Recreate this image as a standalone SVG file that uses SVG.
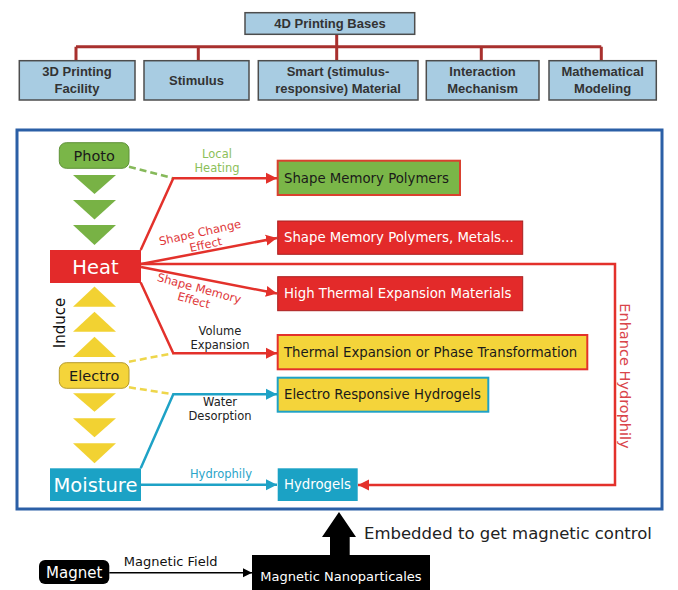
<svg xmlns="http://www.w3.org/2000/svg" width="678" height="590" viewBox="0 0 678 590">
<defs>
<marker id="arR" markerUnits="userSpaceOnUse" markerWidth="12" markerHeight="12" refX="11" refY="6" orient="auto"><path d="M0,0.5 L11,6 L0,11.5 Z" fill="#e3312b"/></marker>
<marker id="arT" markerUnits="userSpaceOnUse" markerWidth="12" markerHeight="12" refX="11" refY="6" orient="auto"><path d="M0,0.5 L11,6 L0,11.5 Z" fill="#1ea2c6"/></marker>
<marker id="arK" markerUnits="userSpaceOnUse" markerWidth="10" markerHeight="10" refX="9" refY="5" orient="auto"><path d="M0,0.5 L9,5 L0,9.5 Z" fill="#000"/></marker>
</defs>
<style>
.tb{fill:#a8cce2;stroke:#4d4d4d;stroke-width:1.5}
.tt{font-family:"Liberation Sans",Arial,sans-serif;font-weight:bold;font-size:13px;fill:#333;text-anchor:middle}
.tree{stroke:#a8302e;stroke-width:3;fill:none}
.v{font-family:"DejaVu Sans",Verdana,sans-serif}
.mid{text-anchor:middle}
.bt{font-family:"DejaVu Sans",Verdana,sans-serif;font-size:13.3px}
.lbl{font-family:"DejaVu Sans",Verdana,sans-serif;font-size:11.5px;text-anchor:middle}
.red{stroke:#e3312b;stroke-width:2.5;fill:none}
.teal{stroke:#1ea2c6;stroke-width:2.5;fill:none}
.gtri{fill:#78b245}
.ytri{fill:#f2d232}
</style>
<rect width="678" height="590" fill="#fff"/>

<g id="tree-connectors">
<path class="tree" d="M336.7,34.3 V46.7 M76,46.7 H601.3 M76,46.7 V60.7 M198.3,46.7 V60.7 M336.7,46.7 V60.7 M481.3,46.7 V60.7 M601.3,46.7 V60.7"/>
</g>
<g id="bases"><rect class="tb" x="245" y="12.7" width="169.7" height="21.6"/><text class="tt" x="330" y="28">4D Printing Bases</text></g>
<g id="facility"><rect class="tb" x="19.3" y="60.7" width="115.7" height="39.3"/><text class="tt" x="77" y="76">3D Printing</text><text class="tt" x="77" y="93">Facility</text></g>
<g id="stimulus"><rect class="tb" x="144" y="60.7" width="105" height="39.3"/><text class="tt" x="196.5" y="84.5">Stimulus</text></g>
<g id="material"><rect class="tb" x="258.3" y="60.7" width="159.7" height="39.3"/><text class="tt" x="338" y="76">Smart (stimulus-</text><text class="tt" x="338" y="93">responsive) Material</text></g>
<g id="mechanism"><rect class="tb" x="426.3" y="60.7" width="112.7" height="39.3"/><text class="tt" x="482.6" y="76">Interaction</text><text class="tt" x="482.6" y="93">Mechanism</text></g>
<g id="modeling"><rect class="tb" x="549" y="60.7" width="107.3" height="39.3"/><text class="tt" x="602.6" y="76">Mathematical</text><text class="tt" x="602.6" y="93">Modeling</text></g>

<g id="frame"><rect x="17" y="130" width="645" height="379" fill="none" stroke="#2b5fa6" stroke-width="3"/></g>

<g id="connectors">
<path d="M129,166.7 L173.3,178.3" stroke="#86b95a" stroke-width="2.5" stroke-dasharray="7,4" fill="none"/>
<path d="M129,361.7 L173.3,353.3 M129,387.3 L173.3,394.3" stroke="#eed64a" stroke-width="2.5" stroke-dasharray="7,4" fill="none"/>
<path class="red" d="M140.7,250 L173.3,178.3 H277" marker-end="url(#arR)"/>
<path class="red" d="M141,264 L277,238" marker-end="url(#arR)"/>
<path class="red" d="M141,267 L277,293.5" marker-end="url(#arR)"/>
<path class="red" d="M140.7,282.5 L173.3,353.3 H277" marker-end="url(#arR)"/>
<path class="red" d="M141,264 H615 V485 H358" marker-end="url(#arR)" stroke-width="2"/>
<path class="teal" d="M140.7,468.3 L173.3,394.3 H277" marker-end="url(#arT)"/>
<path class="teal" d="M141,484.7 H277" marker-end="url(#arT)"/>
<path d="M109.3,572.7 H252" stroke="#000" stroke-width="1.5" marker-end="url(#arK)"/>
<polygon points="330,555 330,537 322,537 339,512 356,537 349.7,537 349.7,555" fill="#000"/>
</g>

<g id="triangles">
<polygon class="gtri" points="73,175 116,175 94.5,194"/>
<polygon class="gtri" points="73,200 116,200 94.5,219.5"/>
<polygon class="gtri" points="73,225 116,225 94.5,245"/>
<polygon class="ytri" points="73,306.7 116,306.7 94.5,286.5"/>
<polygon class="ytri" points="73,331.7 116,331.7 94.5,311.7"/>
<polygon class="ytri" points="73,357 116,357 94.5,336.7"/>
<polygon class="ytri" points="73,393.3 116,393.3 94.5,411.7"/>
<polygon class="ytri" points="73,418.3 116,418.3 94.5,437.3"/>
<polygon class="ytri" points="73,443.3 116,443.3 94.5,463.3"/>
</g>

<g id="photo"><rect x="59.3" y="142.7" width="69.7" height="25.6" rx="7" fill="#7ab648" stroke="#5e9138" stroke-width="1"/><text class="v mid" x="94.2" y="160.8" font-size="14.5" fill="#1a1a1a">Photo</text></g>
<g id="heat"><rect x="50" y="250" width="91" height="33" fill="#e32a2a"/><text class="v mid" x="95.5" y="273.5" font-size="19.5" fill="#fff">Heat</text></g>
<g id="electro"><rect x="59.3" y="362.7" width="69.7" height="25.6" rx="7" fill="#f4d43a" stroke="#b59a2a" stroke-width="1"/><text class="v mid" x="94.2" y="380.8" font-size="14.5" fill="#1a1a1a">Electro</text></g>
<g id="moisture"><rect x="50" y="468.3" width="91" height="32.7" fill="#1ba2c5"/><text class="v mid" x="95.5" y="491.7" font-size="19.5" fill="#fff">Moisture</text></g>
<g id="induce"><text class="v mid" transform="translate(65,323) rotate(-90)" font-size="15" fill="#111">Induce</text></g>
<g id="enhance"><text class="v mid" transform="translate(620,376) rotate(90)" font-size="14.5" fill="#d9454a">Enhance Hydrophily</text></g>

<g id="smp"><rect x="277.7" y="160.7" width="182.3" height="34.3" fill="#7ab648" stroke="#d9412f" stroke-width="2"/><text class="bt" x="284" y="182.8" fill="#1a1a1a">Shape Memory Polymers</text></g>
<g id="smpm"><rect x="277.7" y="221" width="245" height="33.3" fill="#e32a2a" stroke="#a82020" stroke-width="1"/><text class="bt" x="284" y="242.4" fill="#fff">Shape Memory Polymers, Metals...</text></g>
<g id="htem"><rect x="277.7" y="276.7" width="245" height="34" fill="#e32a2a" stroke="#a82020" stroke-width="1"/><text class="bt" x="284" y="298.4" fill="#fff">High Thermal Expansion Materials</text></g>
<g id="thermal"><rect x="277.7" y="335" width="309.6" height="34.3" fill="#f4d43a" stroke="#e3312b" stroke-width="2"/><text class="bt" x="284" y="356.8" fill="#1a1a1a">Thermal Expansion or Phase Transformation</text></g>
<g id="erh"><rect x="277.7" y="377.7" width="210.6" height="34" fill="#f4d43a" stroke="#1ea2c6" stroke-width="2"/><text class="bt" x="284" y="399.4" fill="#1a1a1a">Electro Responsive Hydrogels</text></g>
<g id="hydrogels"><rect x="277.7" y="468.3" width="80" height="32.7" fill="#1ba2c5"/><text class="bt" x="284" y="489.4" fill="#fff">Hydrogels</text></g>

<g id="labels">
<text class="lbl" fill="#8cbf5a"><tspan x="217" y="158">Local</tspan><tspan x="217" y="172">Heating</tspan></text>
<g transform="translate(200,232.5) rotate(-12.4)"><text class="lbl" fill="#e0383a"><tspan x="0" y="4">Shape Change</tspan><tspan x="3" y="17">Effect</tspan></text></g>
<g transform="translate(199.2,288.3) rotate(15.3)"><text class="lbl" fill="#e0383a"><tspan x="0" y="4">Shape Memory</tspan><tspan x="-2" y="17">Effect</tspan></text></g>
<text class="lbl" fill="#222"><tspan x="220" y="335">Volume</tspan><tspan x="220" y="349">Expansion</tspan></text>
<text class="lbl" fill="#222"><tspan x="220" y="406">Water</tspan><tspan x="220" y="420">Desorption</tspan></text>
<text class="lbl" fill="#2aa5c9" x="221" y="477.5">Hydrophily</text>
</g>

<g id="magnet"><rect x="39" y="560" width="70.3" height="24" rx="6" fill="#000"/><text class="v mid" x="74.2" y="577.5" font-size="15" fill="#fff">Magnet</text></g>
<g id="field-label"><text class="v mid" x="170.7" y="566" font-size="13" fill="#111">Magnetic Field</text></g>
<g id="nano"><rect x="252" y="555" width="178" height="37" fill="#000"/><text class="v mid" x="341" y="581" font-size="13" fill="#fff">Magnetic Nanoparticales</text></g>
<g id="embed-label"><text class="v" x="364" y="539" font-size="16.5" fill="#222">Embedded to get magnetic control</text></g>
</svg>
